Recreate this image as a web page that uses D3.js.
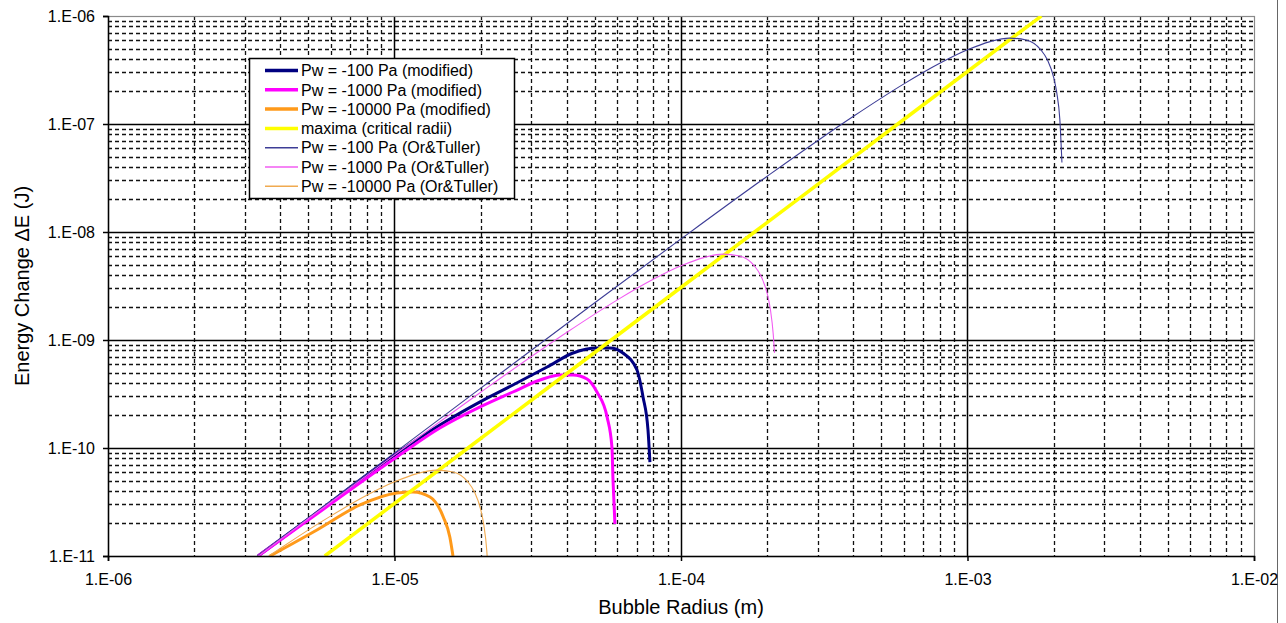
<!DOCTYPE html>
<html>
<head>
<meta charset="utf-8">
<script src="https://cdn.jsdelivr.net/npm/d3@7"></script>
<style>
    body { margin: 0; background: #fff; }
    text { font-family: Arial, "Liberation Sans", sans-serif; fill: #000; }
</style>
</head>
<body>
<svg id="chart" width="1286" height="623"></svg>
<script>
// data: [bubble radius (m), energy change (J)]
var pw100Modified = [[3.34e-6, 1.0e-11], [5.0e-6, 2.2e-11], [1.0e-5, 8.6e-11], [1.44e-5, 1.63e-10],
    [1.99e-5, 2.67e-10], [2.59e-5, 3.83e-10], [3.41e-5, 5.62e-10], [4.20e-5, 7.58e-10],
    [5.09e-5, 8.43e-10], [5.65e-5, 8.43e-10], [6.27e-5, 7.58e-10], [7.02e-5, 5.27e-10],
    [7.37e-5, 2.97e-10], [7.67e-5, 1.47e-10], [7.79e-5, 7.4e-11]];

var pw1000Modified = [[3.34e-6, 1.0e-11], [5.0e-6, 2.15e-11], [1.03e-5, 8.43e-11], [1.44e-5, 1.53e-10],
    [1.99e-5, 2.40e-10], [2.59e-5, 3.30e-10], [3.22e-5, 4.26e-10], [3.78e-5, 4.75e-10],
    [4.20e-5, 4.75e-10], [4.70e-5, 4.36e-10], [5.09e-5, 3.30e-10], [5.52e-5, 1.94e-10],
    [5.74e-5, 1.02e-10], [5.79e-5, 5.06e-11], [5.88e-5, 1.98e-11]];

var pw10000Modified = [[3.68e-6, 1.0e-11], [5.36e-6, 1.74e-11], [7.58e-6, 2.97e-11], [1.02e-5, 3.83e-11],
    [1.16e-5, 3.91e-11], [1.33e-5, 3.52e-11], [1.48e-5, 2.30e-11], [1.56e-5, 1.50e-11],
    [1.60e-5, 1.0e-11]];

var maximaCritical = [[5.71e-6, 1.0e-11], [1.806e-5, 1.0e-10], [5.71e-5, 1.0e-9],
    [1.806e-4, 1.0e-8], [5.71e-4, 1.0e-7], [1.81e-3, 1.0e-6]];

var pw100OrTuller = [[3.3e-6, 9.84e-12], [5.0e-6, 2.257e-11], [1.0e-5, 9.006e-11], [2.0e-5, 3.586e-10],
    [5.0e-5, 2.210e-9], [1.0e-4, 8.629e-9], [2.0e-4, 3.284e-8], [4.0e-4, 1.180e-7],
    [6.0e-4, 2.353e-7], [8.0e-4, 3.646e-7], [1.0e-3, 4.859e-7], [1.2e-3, 5.791e-7],
    [1.4e-3, 6.240e-7], [1.6e-3, 6.005e-7], [1.8e-3, 4.886e-7], [1.9e-3, 3.932e-7],
    [2.0e-3, 2.681e-7], [2.05e-3, 1.937e-7], [2.1e-3, 1.109e-7], [2.136e-3, 4.4e-8]];

var pw1000OrTuller = [[3.3e-6, 9.70e-12], [5.0e-6, 2.210e-11], [1.0e-5, 8.629e-11], [2.0e-5, 3.284e-10],
    [4.0e-5, 1.180e-9], [6.0e-5, 2.353e-9], [8.0e-5, 3.646e-9], [1.0e-4, 4.859e-9],
    [1.2e-4, 5.791e-9], [1.4e-4, 6.240e-9], [1.6e-4, 6.005e-9], [1.8e-4, 4.886e-9],
    [1.9e-4, 3.932e-9], [2.0e-4, 2.681e-9], [2.05e-4, 1.937e-9], [2.1e-4, 1.109e-9],
    [2.12e-4, 7.6e-10]];

var pw10000OrTuller = [[3.6e-6, 9.77e-12], [4.0e-6, 1.180e-11], [6.0e-6, 2.353e-11], [8.0e-6, 3.646e-11],
    [1.0e-5, 4.859e-11], [1.2e-5, 5.791e-11], [1.4e-5, 6.240e-11], [1.6e-5, 6.005e-11],
    [1.8e-5, 4.886e-11], [1.9e-5, 3.932e-11], [2.0e-5, 2.681e-11], [2.05e-5, 1.937e-11],
    [2.1e-5, 1.109e-11], [2.13e-5, 5.72e-12]];

var seriesNames = ["Pw = -100 Pa (modified)", "Pw = -1000 Pa (modified)", "Pw = -10000 Pa (modified)",
    "maxima (critical radii)", "Pw = -100 Pa (Or&Tuller)", "Pw = -1000 Pa (Or&Tuller)",
    "Pw = -10000 Pa (Or&Tuller)"];

var xTickValues = [1e-6, 1e-5, 1e-4, 1e-3, 1e-2];
var xTickLabels = ["1.E-06", "1.E-05", "1.E-04", "1.E-03", "1.E-02"];
var yTickValues = [1e-11, 1e-10, 1e-9, 1e-8, 1e-7, 1e-6];
var yTickLabels = ["1.E-11", "1.E-10", "1.E-09", "1.E-08", "1.E-07", "1.E-06"];

var allSeries = [pw100Modified, pw1000Modified, pw10000Modified, maximaCritical,
    pw100OrTuller, pw1000OrTuller, pw10000OrTuller];
var colors = ["#000080", "#ff00ff", "#ff9a1a", "#ffff00", "#3d3d96", "#f25cf2", "#f0aa50"];
var widths = [3, 3, 3, 3.5, 1.1, 1.1, 1.1];

function build_chart()
{
    var svg = d3.select("#chart");
    var left = 108, right = 1254, plotTop = 16, bottom = 556;

    var x = d3.scaleLog().domain([1e-6, 1e-2]).range([left, right]);
    var y = d3.scaleLog().domain([1e-11, 1e-6]).range([bottom, plotTop]);

    // chart area edge on the right
    svg.append("line")
        .attr("x1", 1277.5).attr("x2", 1277.5).attr("y1", 0).attr("y2", 623)
        .attr("stroke", "#666").attr("stroke-width", 1);

    // minor grid (dashed)
    var isDecade = function(d) { return Math.abs(Math.log10(d) - Math.round(Math.log10(d))) < 1e-6; };
    var grid = svg.append("g");
    grid.selectAll(".vminor")
        .data(x.ticks().filter(function(d) { return !isDecade(d); }))
        .enter().append("line")
        .attr("x1", function(d) { return Math.round(x(d)) + 0.5; })
        .attr("x2", function(d) { return Math.round(x(d)) + 0.5; })
        .attr("y1", plotTop).attr("y2", bottom)
        .attr("stroke", "#111").attr("stroke-width", 1.3).attr("stroke-dasharray", "4,3");
    grid.selectAll(".hminor")
        .data(y.ticks().filter(function(d) { return !isDecade(d); }))
        .enter().append("line")
        .attr("y1", function(d) { return Math.round(y(d)) + 0.5; })
        .attr("y2", function(d) { return Math.round(y(d)) + 0.5; })
        .attr("x1", left).attr("x2", right)
        .attr("stroke", "#111").attr("stroke-width", 1.3).attr("stroke-dasharray", "4,3");

    // major grid (solid)
    grid.selectAll(".vmajor")
        .data(xTickValues.slice(1, -1))
        .enter().append("line")
        .attr("x1", function(d) { return Math.round(x(d)) + 0.5; })
        .attr("x2", function(d) { return Math.round(x(d)) + 0.5; })
        .attr("y1", plotTop).attr("y2", bottom)
        .attr("stroke", "#000").attr("stroke-width", 1.5);
    grid.selectAll(".hmajor")
        .data(yTickValues.slice(1, -1))
        .enter().append("line")
        .attr("y1", function(d) { return Math.round(y(d)) + 0.5; })
        .attr("y2", function(d) { return Math.round(y(d)) + 0.5; })
        .attr("x1", left).attr("x2", right)
        .attr("stroke", "#000").attr("stroke-width", 1.5);

    // plot area border
    svg.append("rect")
        .attr("x", left + 0.5).attr("y", plotTop + 0.5)
        .attr("width", right - left).attr("height", bottom - plotTop)
        .attr("fill", "none").attr("stroke", "#8a8a8a").attr("stroke-width", 1.2);

    // curves
    svg.append("clipPath").attr("id", "plot-clip")
        .append("rect").attr("x", left).attr("y", plotTop)
        .attr("width", right - left).attr("height", bottom - plotTop);

    var line = d3.line()
        .x(function(d) { return x(d[0]); })
        .y(function(d) { return y(d[1]); })
        .curve(d3.curveMonotoneX);

    svg.append("g").attr("clip-path", "url(#plot-clip)")
        .selectAll("path")
        .data(allSeries)
        .enter().append("path")
        .attr("d", line)
        .attr("fill", "none")
        .attr("stroke", function(d, i) { return colors[i]; })
        .attr("stroke-width", function(d, i) { return widths[i]; })
        .attr("stroke-linejoin", "round");

    // axes
    var xAxis = svg.append("g")
        .attr("transform", "translate(0," + bottom + ")")
        .call(d3.axisBottom(x).tickValues(xTickValues)
            .tickFormat(function(d, i) { return xTickLabels[i]; }).tickSize(5).tickPadding(8));
    xAxis.selectAll("text").style("font-size", "16px").attr("y", 18).attr("dy", "0.71em");

    var yAxis = svg.append("g")
        .attr("transform", "translate(" + left + ",0)")
        .call(d3.axisLeft(y).tickValues(yTickValues)
            .tickFormat(function(d, i) { return yTickLabels[i]; }).tickSize(5).tickPadding(8));
    yAxis.selectAll("text").style("font-size", "16px");

    [xAxis, yAxis].forEach(function(a) {
        a.select(".domain").attr("stroke", "#000").attr("stroke-width", 1.5);
        a.selectAll(".tick line").attr("stroke", "#000").attr("stroke-width", 1.5);
    });

    // axis titles
    svg.append("text")
        .attr("x", (left + right) / 2).attr("y", 614)
        .attr("text-anchor", "middle")
        .style("font-size", "20px")
        .text("Bubble Radius (m)");

    svg.append("text")
        .attr("transform", "translate(22," + (plotTop + bottom) / 2 + ") rotate(-90)")
        .attr("text-anchor", "middle")
        .attr("dy", "0.35em")
        .style("font-size", "20px")
        .text("Energy Change \u0394E (J)");

    // legend
    var legend = svg.append("g").attr("transform", "translate(249,58)");
    legend.append("rect")
        .attr("x", 0.5).attr("y", 0.5).attr("width", 265).attr("height", 140)
        .attr("fill", "#fff").attr("stroke", "#000").attr("stroke-width", 1.5);

    var item = legend.selectAll(".item")
        .data(seriesNames)
        .enter().append("g")
        .attr("transform", function(d, i) { return "translate(0," + (12.5 + i * 19.3) + ")"; });

    item.append("line")
        .attr("x1", 16).attr("x2", 49)
        .attr("stroke", function(d, i) { return colors[i]; })
        .attr("stroke-width", function(d, i) { return widths[i] > 2 ? 3.5 : 1.5; });

    item.append("text")
        .attr("x", 52).attr("dy", "0.36em")
        .style("font-size", "16px")
        .text(function(d) { return d; });
}

build_chart();
</script>
</body>
</html>
